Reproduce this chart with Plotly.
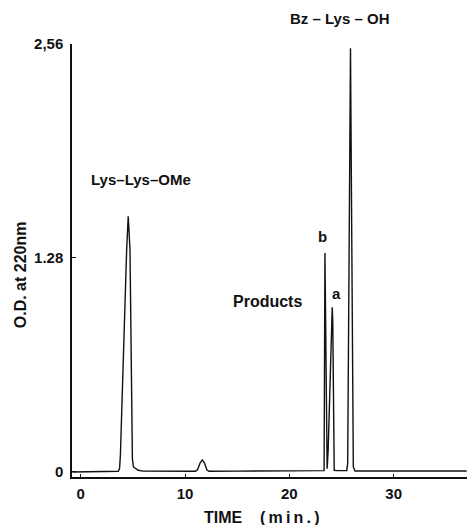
import plotly.graph_objects as go

# Chromatogram trace (time in min, O.D. at 220 nm)
time_min = [-0.8, 1.0, 3.0, 3.6, 3.72, 3.8, 4.4, 4.55, 4.72, 4.95, 5.05, 5.5, 6.0,
            9.0, 11.0, 11.2, 11.45, 11.65, 11.85, 12.1, 12.3, 15.0, 20.0,
            23.33, 23.41, 23.57, 23.62, 23.72, 24.11, 24.16, 24.3, 24.6,
            25.5, 25.59, 25.86, 26.13, 26.3, 30.0, 37.0]
od_220 = [0.0, 0.0, 0.002, 0.004, 0.02, 0.1, 1.33, 1.53, 1.33, 0.08, 0.03, 0.01, 0.005,
          0.004, 0.004, 0.015, 0.055, 0.072, 0.055, 0.012, 0.004, 0.005, 0.007,
          0.008, 1.31, 0.03, 0.02, 0.13, 0.985, 0.9, 0.01, 0.008,
          0.008, 0.05, 2.534, 0.03, 0.006, 0.006, 0.006]

x_tickvals = [0, 10, 20, 30]
x_ticktext = ["0", "10", "20", "30"]
y_tickvals = [0, 1.28, 2.56]
y_ticktext = ["0", "1.28", "2,56"]

T = "\u2009"  # thin space, used to mimic the wide letter spacing of the original

# Peak labels inside the plot: (text, x, y, font size)
labels = [
    ("Lys\u2013Lys\u2013OMe", 5.8, 1.75, 15),
    ("Products", 17.9, 1.02, 16),
    ("b", 23.2, 1.41, 15),
    ("a", 24.5, 1.07, 15),
]
top_label = "Bz " + "\u2013" + " Lys " + "\u2013" + " OH"

font_family = "Liberation Sans, Arial, sans-serif"
ink = "#111111"

fig = go.Figure()
fig.add_trace(go.Scatter(x=time_min, y=od_220, mode="lines",
                         line=dict(color=ink, width=1.4),
                         hoverinfo="skip", showlegend=False))

for text, x, y, size in labels:
    fig.add_annotation(x=x, y=y, text="<b>%s</b>" % text, showarrow=False,
                       font=dict(family=font_family, size=size, color=ink),
                       xanchor="center", yanchor="middle")

# label above the plot area (paper coordinates in y)
fig.add_annotation(x=24.85, xref="x", y=1.06, yref="paper", text="<b>%s</b>" % top_label,
                   showarrow=False, font=dict(family=font_family, size=15, color=ink),
                   xanchor="center", yanchor="middle")

x_title = "<b>TIME" + "\u00a0\u00a0\u00a0\u00a0" + T.join("(min.)") + "</b>"
y_title = "<b>O.D." + "\u00a0" + "at" + "\u00a0" + "220nm</b>"

# axis titles as annotations to place them like the original
fig.add_annotation(x=0.481, xref="paper", y=0, yref="paper", yshift=-40,
                   text=x_title, showarrow=False,
                   font=dict(family=font_family, size=16, color=ink),
                   xanchor="center", yanchor="middle")
fig.add_annotation(x=0, xref="paper", xshift=-52, y=0.466, yref="paper",
                   text=y_title, textangle=-90, showarrow=False,
                   font=dict(family=font_family, size=16, color=ink),
                   xanchor="center", yanchor="middle")

fig.update_layout(
    width=471, height=525,
    margin=dict(l=72, r=4, t=44, b=48),
    paper_bgcolor="white", plot_bgcolor="white",
    font=dict(family=font_family, size=15, color=ink),
    xaxis=dict(range=[-0.84, 37.03], showgrid=False, zeroline=False,
               showline=True, linecolor=ink, linewidth=1.5,
               ticks="inside", ticklen=3, tickcolor=ink,
               tickvals=x_tickvals, ticktext=["<b>%s</b>" % t for t in x_ticktext],
               ticklabelstandoff=2),
    yaxis=dict(range=[-0.03, 2.56], showgrid=False, zeroline=False,
               showline=True, linecolor=ink, linewidth=1.5,
               ticks="inside", ticklen=4, tickcolor=ink,
               tickvals=y_tickvals, ticktext=["<b>%s</b>" % t for t in y_ticktext],
               ticklabelstandoff=4),
)

fig.write_html("out.html")
